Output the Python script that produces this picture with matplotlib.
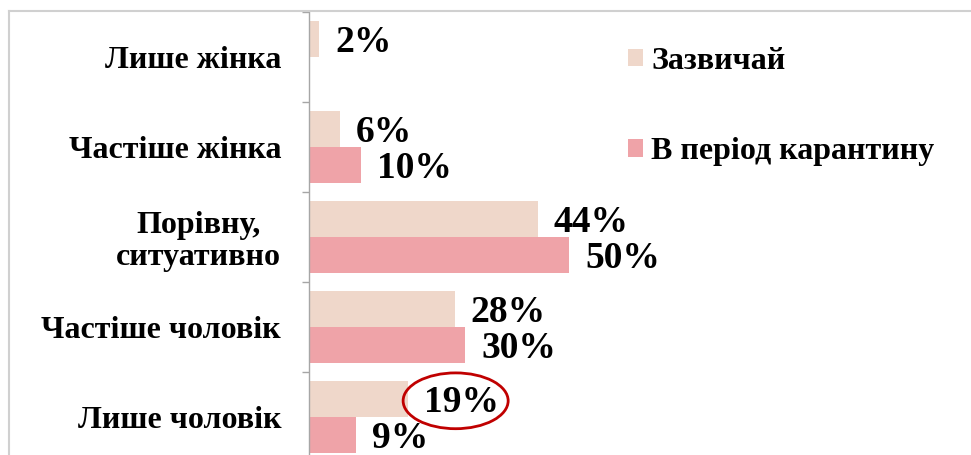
import matplotlib
matplotlib.use("Agg")
import matplotlib.pyplot as plt
from matplotlib.patches import Patch, Ellipse
from matplotlib.lines import Line2D
import numpy as np

# data
categories = ["Лише жінка", "Частіше жінка", "Порівну,\nситуативно",
              "Частіше чоловік", "Лише чоловік"]
usual = [2, 6, 44, 28, 19]
quarantine = [None, 10, 50, 30, 9]
series_names = ["Зазвичай", "В період карантину"]
colors = ["#EFD7CA", "#EFA3A8"]

plt.rcParams['font.family'] = ['Liberation Serif', 'DejaVu Serif']
plt.rcParams['font.weight'] = 'bold'

W, H = 971, 455
fig = plt.figure(figsize=(W / 100, H / 100), dpi=100)
ax = fig.add_axes([309 / W, -7 / H, 650 / W, 450 / H])

y = np.arange(len(categories))
bh = 0.4

for vals, off, col in [(usual, -bh / 2, colors[0]), (quarantine, bh / 2, colors[1])]:
    for yi, v in zip(y, vals):
        if v is None:
            continue
        ax.barh(yi + off, v, height=bh, color=col, edgecolor='none')
        ax.annotate(f"{v}%", xy=(v, yi + off), xytext=(16, -4),
                    textcoords='offset pixels', va='center', ha='left',
                    fontsize=27, fontweight='bold')

ax.set_xlim(0, 125)
ax.set_ylim(len(categories) - 0.5, -0.5)

ax.set_yticks(y)
ax.set_yticklabels(categories, fontsize=23, fontweight='bold',
                   multialignment='center', linespacing=1.1)
ax.tick_params(axis='y', which='major', length=0, pad=20)
ax.set_yticks(np.arange(-0.5, len(categories) + 0.5, 1), minor=True)
ax.tick_params(axis='y', which='minor', length=5, width=1, color='#A6A6A6')
ax.xaxis.set_visible(False)
for s in ['top', 'right', 'bottom']:
    ax.spines[s].set_visible(False)
ax.spines['left'].set_color('#A6A6A6')
ax.spines['left'].set_linewidth(1)

# red ellipse around the 19% label
hl = 4
ax.add_patch(Ellipse((usual[hl] + 9.2, hl - 0.18), width=20.2, height=0.62,
                     fill=False, edgecolor='#C00000', linewidth=2))

handles = [Patch(facecolor=c, edgecolor='none') for c in colors]
ax.legend(handles, series_names, loc='upper left',
          bbox_to_anchor=(628 / W, 1 - 47 / H), bbox_transform=fig.transFigure,
          frameon=False, prop={'weight': 'bold', 'size': 23},
          handlelength=0.47, handleheight=0.47, handletextpad=0.25,
          labelspacing=1.92, borderpad=0, borderaxespad=0)

# outer frame (top and left edges visible)
fig.add_artist(Line2D([9 / W, 1], [1 - 11 / H, 1 - 11 / H], transform=fig.transFigure,
                      color='#D0D0D0', linewidth=1.5))
fig.add_artist(Line2D([9 / W, 9 / W], [0, 1 - 11 / H], transform=fig.transFigure,
                      color='#D0D0D0', linewidth=1.5))

fig.savefig("out.png", dpi=100)
